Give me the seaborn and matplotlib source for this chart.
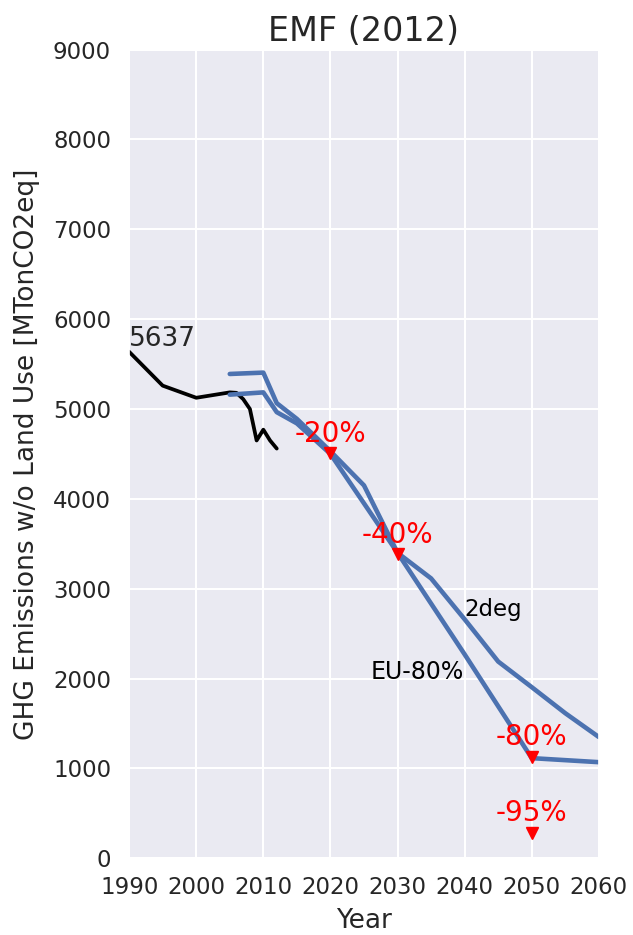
import matplotlib
matplotlib.use("Agg")
import matplotlib.pyplot as plt
import seaborn as sns
import pandas as pd

sns.set_theme(style="darkgrid", rc={"grid.linewidth": 1.5})
plt.rcParams['font.family'] = ['DejaVu Sans']

# Historical emissions (MTonCO2eq)
hist_years = [1990, 1995, 2000, 2005, 2006, 2007, 2008, 2009, 2010, 2011, 2012]
hist_values = [5637, 5260, 5125, 5185, 5180, 5110, 5000, 4650, 4770, 4650, 4560]

# Scenario pathways
deg2_years = [2005, 2010, 2012, 2015, 2020, 2025, 2030, 2035, 2040, 2045, 2050, 2055, 2060]
deg2_values = [5390, 5405, 5065, 4890, 4530, 4150, 3400, 3115, 2660, 2190, 1905, 1615, 1350]

eu80_years = [2005, 2010, 2012, 2015, 2020, 2030, 2040, 2050, 2060]
eu80_values = [5160, 5185, 4965, 4840, 4500, 3400, 2270, 1115, 1070]

# Reduction targets relative to 1990
target_years = [2020, 2030, 2050, 2050]
target_labels = ["-20%", "-40%", "-80%", "-95%"]
target_fracs = [0.20, 0.40, 0.80, 0.95]
base_1990 = 5637
target_values = [base_1990 * (1 - f) for f in target_fracs]

fig = plt.figure(figsize=(6.33, 9.35), dpi=100)
ax = fig.add_axes([0.204, 0.082, 0.742, 0.865])

blue = sns.color_palette("deep")[0]
sns.lineplot(x=hist_years, y=hist_values, ax=ax, color="black", linewidth=2.7)
sns.lineplot(x=deg2_years, y=deg2_values, ax=ax, color=blue, linewidth=3.3)
sns.lineplot(x=eu80_years, y=eu80_values, ax=ax, color=blue, linewidth=3.3)

ax.plot(target_years, target_values, linestyle="none", marker="v",
        color="red", markersize=8)
for yr, val, lab in zip(target_years, target_values, target_labels):
    ax.annotate(lab, (yr, val), xytext=(0, 4), textcoords="offset points",
                ha="center", va="bottom", color="red", fontsize=20)

ax.text(1990, base_1990, str(base_1990), ha="left", va="bottom", fontsize=19,
        color="#262626")
ax.text(2040, 2700, "2deg", fontsize=16.5, color="black")
ax.text(2026, 2000, "EU-80%", fontsize=17, color="black")

ax.set_xlim(1990, 2060)
ax.set_ylim(0, 9000)
ax.set_xticks(range(1990, 2061, 10))
ax.set_yticks(range(0, 9001, 1000))
ax.tick_params(labelsize=16.5, pad=7)
ax.set_xlabel("Year", fontsize=19, labelpad=6)
ax.set_ylabel("GHG Emissions w/o Land Use [MTonCO2eq]", fontsize=19, labelpad=9)
ax.set_title("EMF (2012)", fontsize=24)

fig.savefig("out.png", dpi=100)
